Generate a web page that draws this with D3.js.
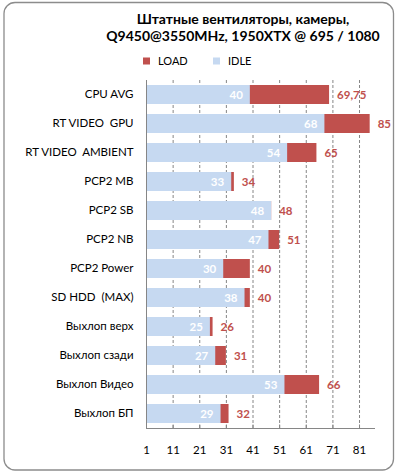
<!DOCTYPE html>
<html><head><meta charset="utf-8">
<script src="https://cdn.jsdelivr.net/npm/d3@7"></script>
<style>body{margin:0;background:#fff}svg{display:block}text{font-family:Lato,"Open Sans",sans-serif}</style>
</head><body><svg id="c" width="396" height="475"></svg>
<script>
const categories = ["CPU AVG","RT VIDEO  GPU","RT VIDEO  AMBIENT","PCP2 MB","PCP2 SB","PCP2 NB","PCP2 Power","SD HDD  (MAX)","Выхлоп верх","Выхлоп сзади","Выхлоп Видео","Выхлоп БП"];
const idle = [40,68,54,33,48,47,30,38,25,27,53,29];
const load = [69.75,85,65,34,48,51,40,40,26,31,66,32];
const tickValues = [1,11,21,31,41,51,61,71,81];
const titleLines = ["Штатные вентиляторы, камеры,","Q9450@3550MHz, 1950XTX  @ 695 / 1080"];
const seriesNames = ["LOAD","IDLE"];

const svg = d3.select("#c");
const C_LOAD = "#C0504D", C_IDLE = "#C6D9F1";
svg.append("rect").attr("x",4).attr("y",2.5).attr("width",389.5).attr("height",467.5).attr("rx",11)
  .attr("fill","#fff").attr("stroke","#8c8c8c").attr("stroke-width",1.3);

const x = d3.scaleLinear().domain([1,87]).range([146,375]);
const y = d3.scaleBand().domain(categories).range([80,428]).paddingInner(0.345).paddingOuter(0.1725);

// title
svg.append("g").selectAll("text").data(titleLines).join("text")
  .attr("x",243).attr("y",(d,i)=>24+i*17).attr("text-anchor","middle")
  .attr("font-size",14).attr("font-weight","bold").attr("fill","#000").text(d=>d);

// legend
const lg = svg.append("g");
[[143,C_LOAD],[213,C_IDLE]].forEach((p,i)=>{
  lg.append("rect").attr("x",p[0]).attr("y",57.5).attr("width",7).attr("height",7).attr("fill",p[1]);
  lg.append("text").attr("x",p[0]+15).attr("y",65).attr("font-size",11).attr("fill","#000").text(seriesNames[i]);
});

// gridlines
svg.append("g").selectAll("line").data(tickValues.slice(1)).join("line")
  .attr("x1",d=>x(d)+0.5).attr("x2",d=>x(d)+0.5).attr("y1",80).attr("y2",428)
  .attr("stroke","#868686").attr("stroke-dasharray","3,2");

const rows = categories.map((c,i)=>({c,idle:idle[i],load:load[i]}));
// load bars (behind)
svg.append("g").selectAll("rect").data(rows).join("rect")
  .attr("x",d=>x(1)).attr("y",d=>y(d.c)).attr("width",d=>x(d.load)-x(1)).attr("height",y.bandwidth()).attr("fill",C_LOAD);
// idle bars
svg.append("g").selectAll("rect").data(rows).join("rect")
  .attr("x",d=>x(1)).attr("y",d=>y(d.c)).attr("width",d=>x(d.idle)-x(1)).attr("height",y.bandwidth()).attr("fill",C_IDLE);

const fmt = v => String(v).replace(".",",");
// idle labels
svg.append("g").selectAll("text").data(rows).join("text")
  .attr("x",d=>x(d.idle)-7).attr("y",d=>y(d.c)+y.bandwidth()/2+4).attr("text-anchor","end")
  .attr("font-size",11.5).attr("font-weight","bold").attr("fill","#fff").text(d=>fmt(d.idle));
// load labels
svg.append("g").selectAll("text").data(rows).join("text")
  .attr("x",d=>x(d.load)+8).attr("y",d=>y(d.c)+y.bandwidth()/2+4).attr("text-anchor","start")
  .attr("font-size",11.5).attr("font-weight","bold").attr("fill",C_LOAD).text(d=>fmt(d.load));

// axes
const xa = svg.append("g").attr("transform","translate(0,428.5)")
  .call(d3.axisBottom(x).tickValues(tickValues).tickSize(-4).tickPadding(17).tickFormat(d3.format("d")));
xa.select(".domain").attr("stroke","#868686").attr("d","M146,0H375");
xa.selectAll(".tick line").attr("stroke","#868686");
xa.selectAll(".tick text").attr("font-size",11.5).attr("fill","#000").attr("font-family","Lato,'Open Sans',sans-serif");

const ya = svg.append("g").attr("transform","translate(146.5,0)")
  .call(d3.axisLeft(y).tickSize(0).tickPadding(13));
ya.select(".domain").attr("stroke","#868686").attr("d","M0,80V428");
ya.selectAll(".tick text").attr("font-size",11.5).attr("fill","#000").attr("font-family","Lato,'Open Sans',sans-serif").style("white-space","pre");
</script></body></html>
